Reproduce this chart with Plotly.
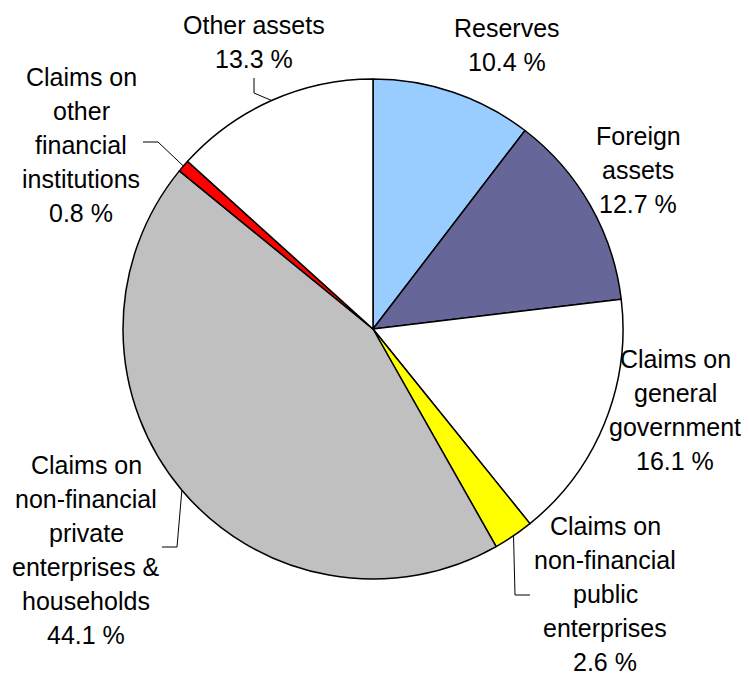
import math
import plotly.graph_objects as go

# ---- data ----
categories = [
    "Reserves",
    "Foreign assets",
    "Claims on general government",
    "Claims on non-financial public enterprises",
    "Claims on non-financial private enterprises & households",
    "Claims on other financial institutions",
    "Other assets",
]
shares = [10.4, 12.7, 16.1, 2.6, 44.1, 0.8, 13.3]
label_lines = [
    ["Reserves"],
    ["Foreign", "assets"],
    ["Claims on", "general", "government"],
    ["Claims on", "non-financial", "public", "enterprises"],
    ["Claims on", "non-financial", "private", "enterprises &", "households"],
    ["Claims on", "other", "financial", "institutions"],
    ["Other assets"],
]
colors = ["#99CCFF", "#666699", "#FFFFFF", "#FFFF00", "#C0C0C0", "#FF0000", "#FFFFFF"]

# ---- layout geometry (window pixels) ----
OFF = 8                      # page body margin
W, H = 749 - OFF, 677 - OFF  # figure size
CX, CY, R = 373, 329, 250
FONT = "Liberation Sans, Arial, sans-serif"
FS = 25
LINE_H = 34

# label block centres (px)
label_pos = [
    (507, 45),
    (638, 170),
    (675, 410),
    (605, 594),
    (86, 550),
    (81, 145),
    (254, 42),
]
# leader lines: (start, elbow) in px; end point is computed on the pie edge
leaders = {
    3: ((530, 595), (515, 595)),
    4: ((162, 547), (177, 547)),
    5: ((143, 142), (158, 142)),
    6: ((254, 78), (254, 93)),
}

def px(x):
    return (x - OFF) / W

def py(y):
    return 1 - (y - OFF) / H

fig = go.Figure(
    go.Pie(
        labels=categories,
        values=shares,
        sort=False,
        direction="clockwise",
        rotation=0,
        marker=dict(colors=colors, line=dict(color="#000000", width=1.5)),
        textinfo="none",
        hoverinfo="label+percent",
        showlegend=False,
        domain=dict(x=[px(CX - R), px(CX + R)], y=[py(CY + R), py(CY - R)]),
    )
)

annotations = []
total = sum(shares)
cum = 0.0
mids = []
for v in shares:
    mids.append((cum + v / 2) / total * 2 * math.pi)
    cum += v

for i, lines in enumerate(label_lines):
    all_lines = lines + [f"{shares[i]:.1f} %"]
    n = len(all_lines)
    xc, yc = label_pos[i]
    for k, t in enumerate(all_lines):
        yy = yc + (k - (n - 1) / 2) * LINE_H
        annotations.append(
            dict(
                x=px(xc), y=py(yy), xref="paper", yref="paper",
                text=t, showarrow=False, xanchor="center", yanchor="middle",
                font=dict(family=FONT, size=FS, color="#000000"),
            )
        )

shapes = []
for i, (s, e) in leaders.items():
    a = mids[i]
    ex = CX + R * math.sin(a)
    ey = CY - R * math.cos(a)
    path = f"M {px(s[0])},{py(s[1])} L {px(e[0])},{py(e[1])} L {px(ex)},{py(ey)}"
    shapes.append(
        dict(type="path", path=path, xref="paper", yref="paper",
             line=dict(color="#000000", width=1))
    )

fig.update_layout(
    width=W, height=H,
    margin=dict(l=0, r=0, t=0, b=0),
    paper_bgcolor="#FFFFFF",
    plot_bgcolor="#FFFFFF",
    annotations=annotations,
    shapes=shapes,
)

fig.write_html("out.html")
